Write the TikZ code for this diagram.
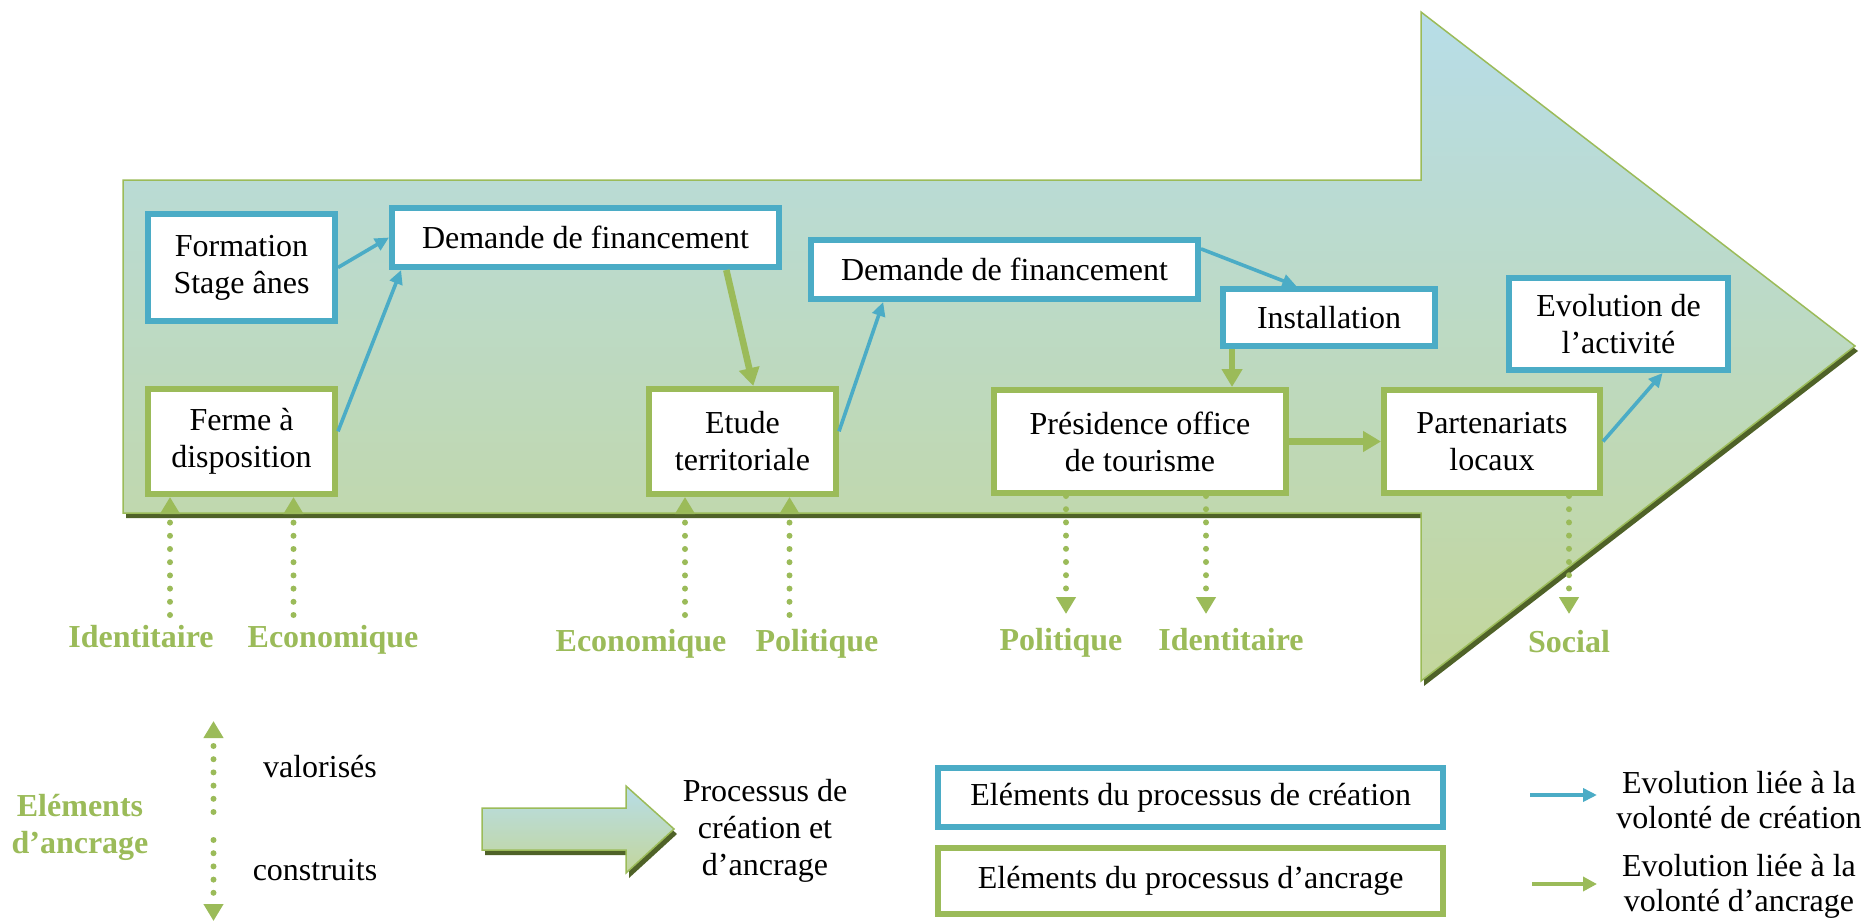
\documentclass[tikz,border=0pt]{standalone}
\usepackage{fontspec}
\setmainfont{Liberation Serif}
\usetikzlibrary{arrows.meta}

\definecolor{creablue}{HTML}{4BACC6}
\definecolor{ancregreen}{HTML}{9BBB59}
\definecolor{shadowgreen}{HTML}{4F6228}
\definecolor{arrowtop}{HTML}{B7DDE8}
\definecolor{arrowbottom}{HTML}{C3D69B}

\begin{document}
\begin{tikzpicture}[
    x=.5pt,y=-.5pt,font=\fontsize{16}{18.5}\selectfont,
    procbox/.style={draw,line width=3pt,fill=white,align=center,inner sep=0pt},
    creabox/.style={procbox,draw=creablue},
    ancrebox/.style={procbox,draw=ancregreen},
    creaflow/.style={draw=creablue,line width=1.8pt,-{Triangle[length=7pt,width=6.5pt]}},
    ancreflow/.style={draw=ancregreen,line width=3.3pt,-{Triangle[length=9pt,width=10pt]}},
    anchorflow/.style={draw=ancregreen,line width=3pt,line cap=round,
        dash pattern=on 0pt off 6.6pt,-{Triangle[length=8.5pt,width=9.5pt]}},
    dimlabel/.style={text=ancregreen,font=\fontsize{16}{18.5}\selectfont\bfseries,anchor=base},
    procarrow/.style={draw=ancregreen,line width=.75pt,top color=arrowtop,bottom color=arrowbottom},
    arrowshadow/.style={fill=shadowgreen}
]
    \useasboundingbox (0,0) rectangle (1870,921);

    % Process arrow with its drop shadow
    \fill[arrowshadow] (126,185) -- (1424,185) -- (1424,17) -- (1858,351)
        -- (1424,686) -- (1424,518) -- (126,518) -- cycle;
    \path[procarrow] (123,180) -- (1421,180) -- (1421,12) -- (1855,346)
        -- (1421,681) -- (1421,513) -- (123,513) -- cycle;

    % Creation steps (blue) and anchoring steps (green)
    \node[creabox,minimum width=93.5pt,minimum height=53.5pt] (formation) at (241.5,267.5) {Formation\\Stage ânes};
    \node[creabox,minimum width=193.5pt,minimum height=29.5pt] (demA) at (585.5,237.5) {Demande de financement};
    \node[ancrebox,minimum width=93.5pt,minimum height=52.5pt] (ferme) at (241.5,441.5) {Ferme à\\disposition};
    \node[ancrebox,minimum width=93.5pt,minimum height=52.5pt] (etude) at (742.5,441.5) {Etude\\territoriale};
    \node[creabox,minimum width=193.5pt,minimum height=29.5pt] (demB) at (1004.5,269.5) {Demande de financement};
    \node[creabox,minimum width=106pt,minimum height=28.5pt] (install) at (1329,317.5) {Installation};
    \node[creabox,minimum width=109.5pt,minimum height=46pt] (evol) at (1618.5,324) {Evolution de\\l’activité};
    \node[ancrebox,minimum width=146pt,minimum height=51.5pt] (presid) at (1140,441.5) {Présidence office\\de tourisme};
    \node[ancrebox,minimum width=108pt,minimum height=51.5pt] (parten) at (1492,441.5) {Partenariats\\locaux};

    % Evolution linked to the will of creation
    \draw[creaflow] (formation.east) -- (demA.west);
    \draw[creaflow] (ferme.6) -- (demA.190);
    \draw[creaflow] (etude.6) -- (demB.195);
    \draw[creaflow] (demB.6) -- (install.136);
    \draw[creaflow] (parten.east) -- (evol.312);
    % Evolution linked to the will of anchoring
    \draw[ancreflow] (demA.-13) -- (etude.79);
    \draw[ancreflow] (install.198) -- (install.198 |- presid.north);
    \draw[ancreflow] (presid.east) -- (parten.west);

    % Anchoring elements: valued ones point up, built ones point down
    \foreach \name/\x/\step in {idA/170/ferme,ecoA/293.5/ferme,ecoB/685/etude,polB/789.5/etude} {
        \coordinate (\name) at (\x,615);
        \draw[anchorflow] (\name) -- (\name |- \step.south);
    }
    \foreach \name/\x/\step in {polC/1066/presid,idC/1206/presid,socD/1569/parten} {
        \coordinate (\name) at (\x,614);
        \draw[anchorflow] (\name |- \step.south) -- (\name);
    }
    \foreach \name/\x/\y/\txt in {labidA/141/647/Identitaire,labecoA/333/647/Economique,
        labecoB/641/651/Economique,labpolB/817/651/Politique,labpolC/1061/650/Politique,
        labidC/1231/650/Identitaire,labsocD/1569/652/Social}
        \node[dimlabel] (\name) at (\x,\y) {\txt};

    % Legend
    \node[dimlabel,anchor=center,align=center] (legelem) at (80,827) {Eléments\\d’ancrage};
    \coordinate (valtop) at (213.5,721);
    \coordinate (valbot) at (213.5,812);
    \coordinate (constop) at (213.5,840);
    \coordinate (consbot) at (213.5,921);
    \draw[anchorflow] (valbot) -- (valtop);
    \draw[anchorflow] (constop) -- (consbot);
    \node[anchor=base] (valor) at (320,777) {valorisés};
    \node[anchor=base] (constr) at (315,880) {construits};

    \fill[arrowshadow] (485,813) -- (629,813) -- (629,791) -- (677,834)
        -- (629,878) -- (629,855) -- (485,855) -- cycle;
    \path[procarrow] (482,808) -- (626,808) -- (626,786) -- (674,829)
        -- (626,873) -- (626,850) -- (482,850) -- cycle;
    \node[align=center] (proclab) at (765,831) {Processus de\\création et\\d’ancrage};

    \node[creabox,minimum width=252.5pt,minimum height=29.5pt] (legcrea) at (1190.75,797.5) {Eléments du processus de création};
    \node[ancrebox,minimum width=252.5pt,minimum height=33pt] (legancre) at (1190.75,881) {Eléments du processus d’ancrage};

    \coordinate (bluefrom) at (1530,795);
    \coordinate (blueto) at (1597,795);
    \coordinate (greenfrom) at (1532,884);
    \coordinate (greento) at (1597,884);
    \draw[creaflow] (bluefrom) -- (blueto);
    \draw[ancreflow,line width=2pt,-{Triangle[length=7pt,width=7pt]}] (greenfrom) -- (greento);
    \node[align=center,font=\fontsize{16}{17.5}\selectfont] (evolcrea) at (1739,800) {Evolution liée à la\\volonté de création};
    \node[align=center,font=\fontsize{16}{17.5}\selectfont] (evolancre) at (1739,886.5) {Evolution liée à la\\volonté d’ancrage};
\end{tikzpicture}
\end{document}
